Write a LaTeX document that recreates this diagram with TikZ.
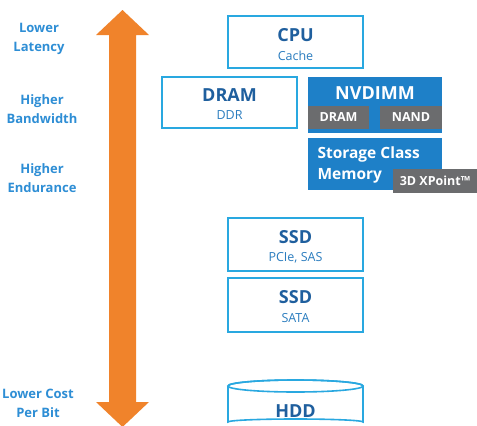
\documentclass[tikz,border=0pt]{standalone}
\usepackage{fontspec}
\setmainfont{Open Sans}
\definecolor{edge}{HTML}{29A8E0}
\definecolor{title}{HTML}{1F5F9E}
\definecolor{sub}{HTML}{2B7DBF}
\definecolor{lbl}{HTML}{2E8ED5}
\definecolor{solid}{HTML}{1E80C8}
\definecolor{chip}{HTML}{6B6C6E}
\definecolor{arrowc}{HTML}{F0832B}
\tikzset{
  box/.style={draw=edge,line width=1.6pt,minimum width=135pt,inner sep=0pt},
  solidbox/.style={fill=solid,minimum width=134pt,inner sep=0pt},
  chipbox/.style={fill=chip,text=white,font=\fontsize{12.5}{13}\selectfont\bfseries,inner sep=0pt,minimum height=23pt},
  side/.style={text=lbl,align=center,font=\fontsize{13}{19}\selectfont\bfseries},
  ttl/.style={text=title,font=\fontsize{18}{20}\selectfont\bfseries,inner sep=0pt},
  sbt/.style={text=sub,font=\fontsize{12.5}{14}\selectfont,inner sep=0pt},
}
\begin{document}
\begin{tikzpicture}[x=1pt,y=-1pt]
\clip (0,0) rectangle (477,426);
\fill[white] (0,0) rectangle (477,426);

% up-down arrow
\fill[arrowc] (122.5,10) -- (149,35) -- (136,35) -- (136,402) -- (149,402) -- (122.5,427)
  -- (96,402) -- (109,402) -- (109,35) -- (96,35) -- cycle;

% labels on the left
\node[side] (latency) at (39,38.5) {Lower\\Latency};
\node[side] (bandwidth) at (42,109) {Higher\\Bandwidth};
\node[side] (endurance) at (42,178.5) {Higher\\Endurance};
\node[side] (cost) at (38,403.5) {Lower Cost\\Per Bit};

% memory tiers
\node[box,minimum height=52pt] (cpu) at (295.5,42) {};
\node[ttl] (cputxt) at (295.5,35) {CPU};
\node[sbt] (cache) at (295.5,56) {Cache};

\node[box,minimum height=51pt] (dram) at (229.5,102.5) {};
\node[ttl] (dramtxt) at (229.5,95) {DRAM};
\node[sbt] (ddr) at (229.5,115) {DDR};

\node[solidbox,minimum height=56pt] (nvdimm) at (375,105) {};
\node[text=white,font=\fontsize{18}{20}\selectfont\bfseries,inner sep=0pt] (nvdimmtxt) at (375,93) {NVDIMM};
\node[chipbox,minimum width=61pt] (nvdram) at (338.5,117.5) {DRAM};
\node[chipbox,minimum width=62pt] (nand) at (411,117.5) {NAND};

\node[solidbox,minimum height=52pt] (scm) at (375,164) {};
\node[text=white,anchor=west,align=left,font=\fontsize{15.5}{21}\selectfont\bfseries] (scmtxt) at (314,165) {Storage Class\\Memory};
\node[chipbox,minimum width=84pt,minimum height=24pt] (xpoint) at (435,181) {3D XPoint™};

% storage tiers
\node[box,minimum height=53pt] (ssdpcie) at (295.5,244.5) {};
\node[ttl] (ssd1) at (295.5,237) {SSD};
\node[sbt] (pcie) at (295.5,258) {PCIe, SAS};

\node[box,minimum height=54pt] (ssdsata) at (295.5,305) {};
\node[ttl] (ssd2) at (295.5,297.5) {SSD};
\node[sbt] (sata) at (295.5,318) {SATA};

% disk
\draw[edge,line width=1.6pt,fill=white] (228,386) -- (228,422) arc[start angle=180,end angle=360,x radius=67.5,y radius=3]
  -- (363,386) arc[start angle=0,end angle=-180,x radius=67.5,y radius=6];
\draw[edge,line width=1.6pt] (295.5,386) ellipse[x radius=67.5,y radius=6];
\node[ttl] (hdd) at (295.5,411) {HDD};
\end{tikzpicture}
\end{document}
